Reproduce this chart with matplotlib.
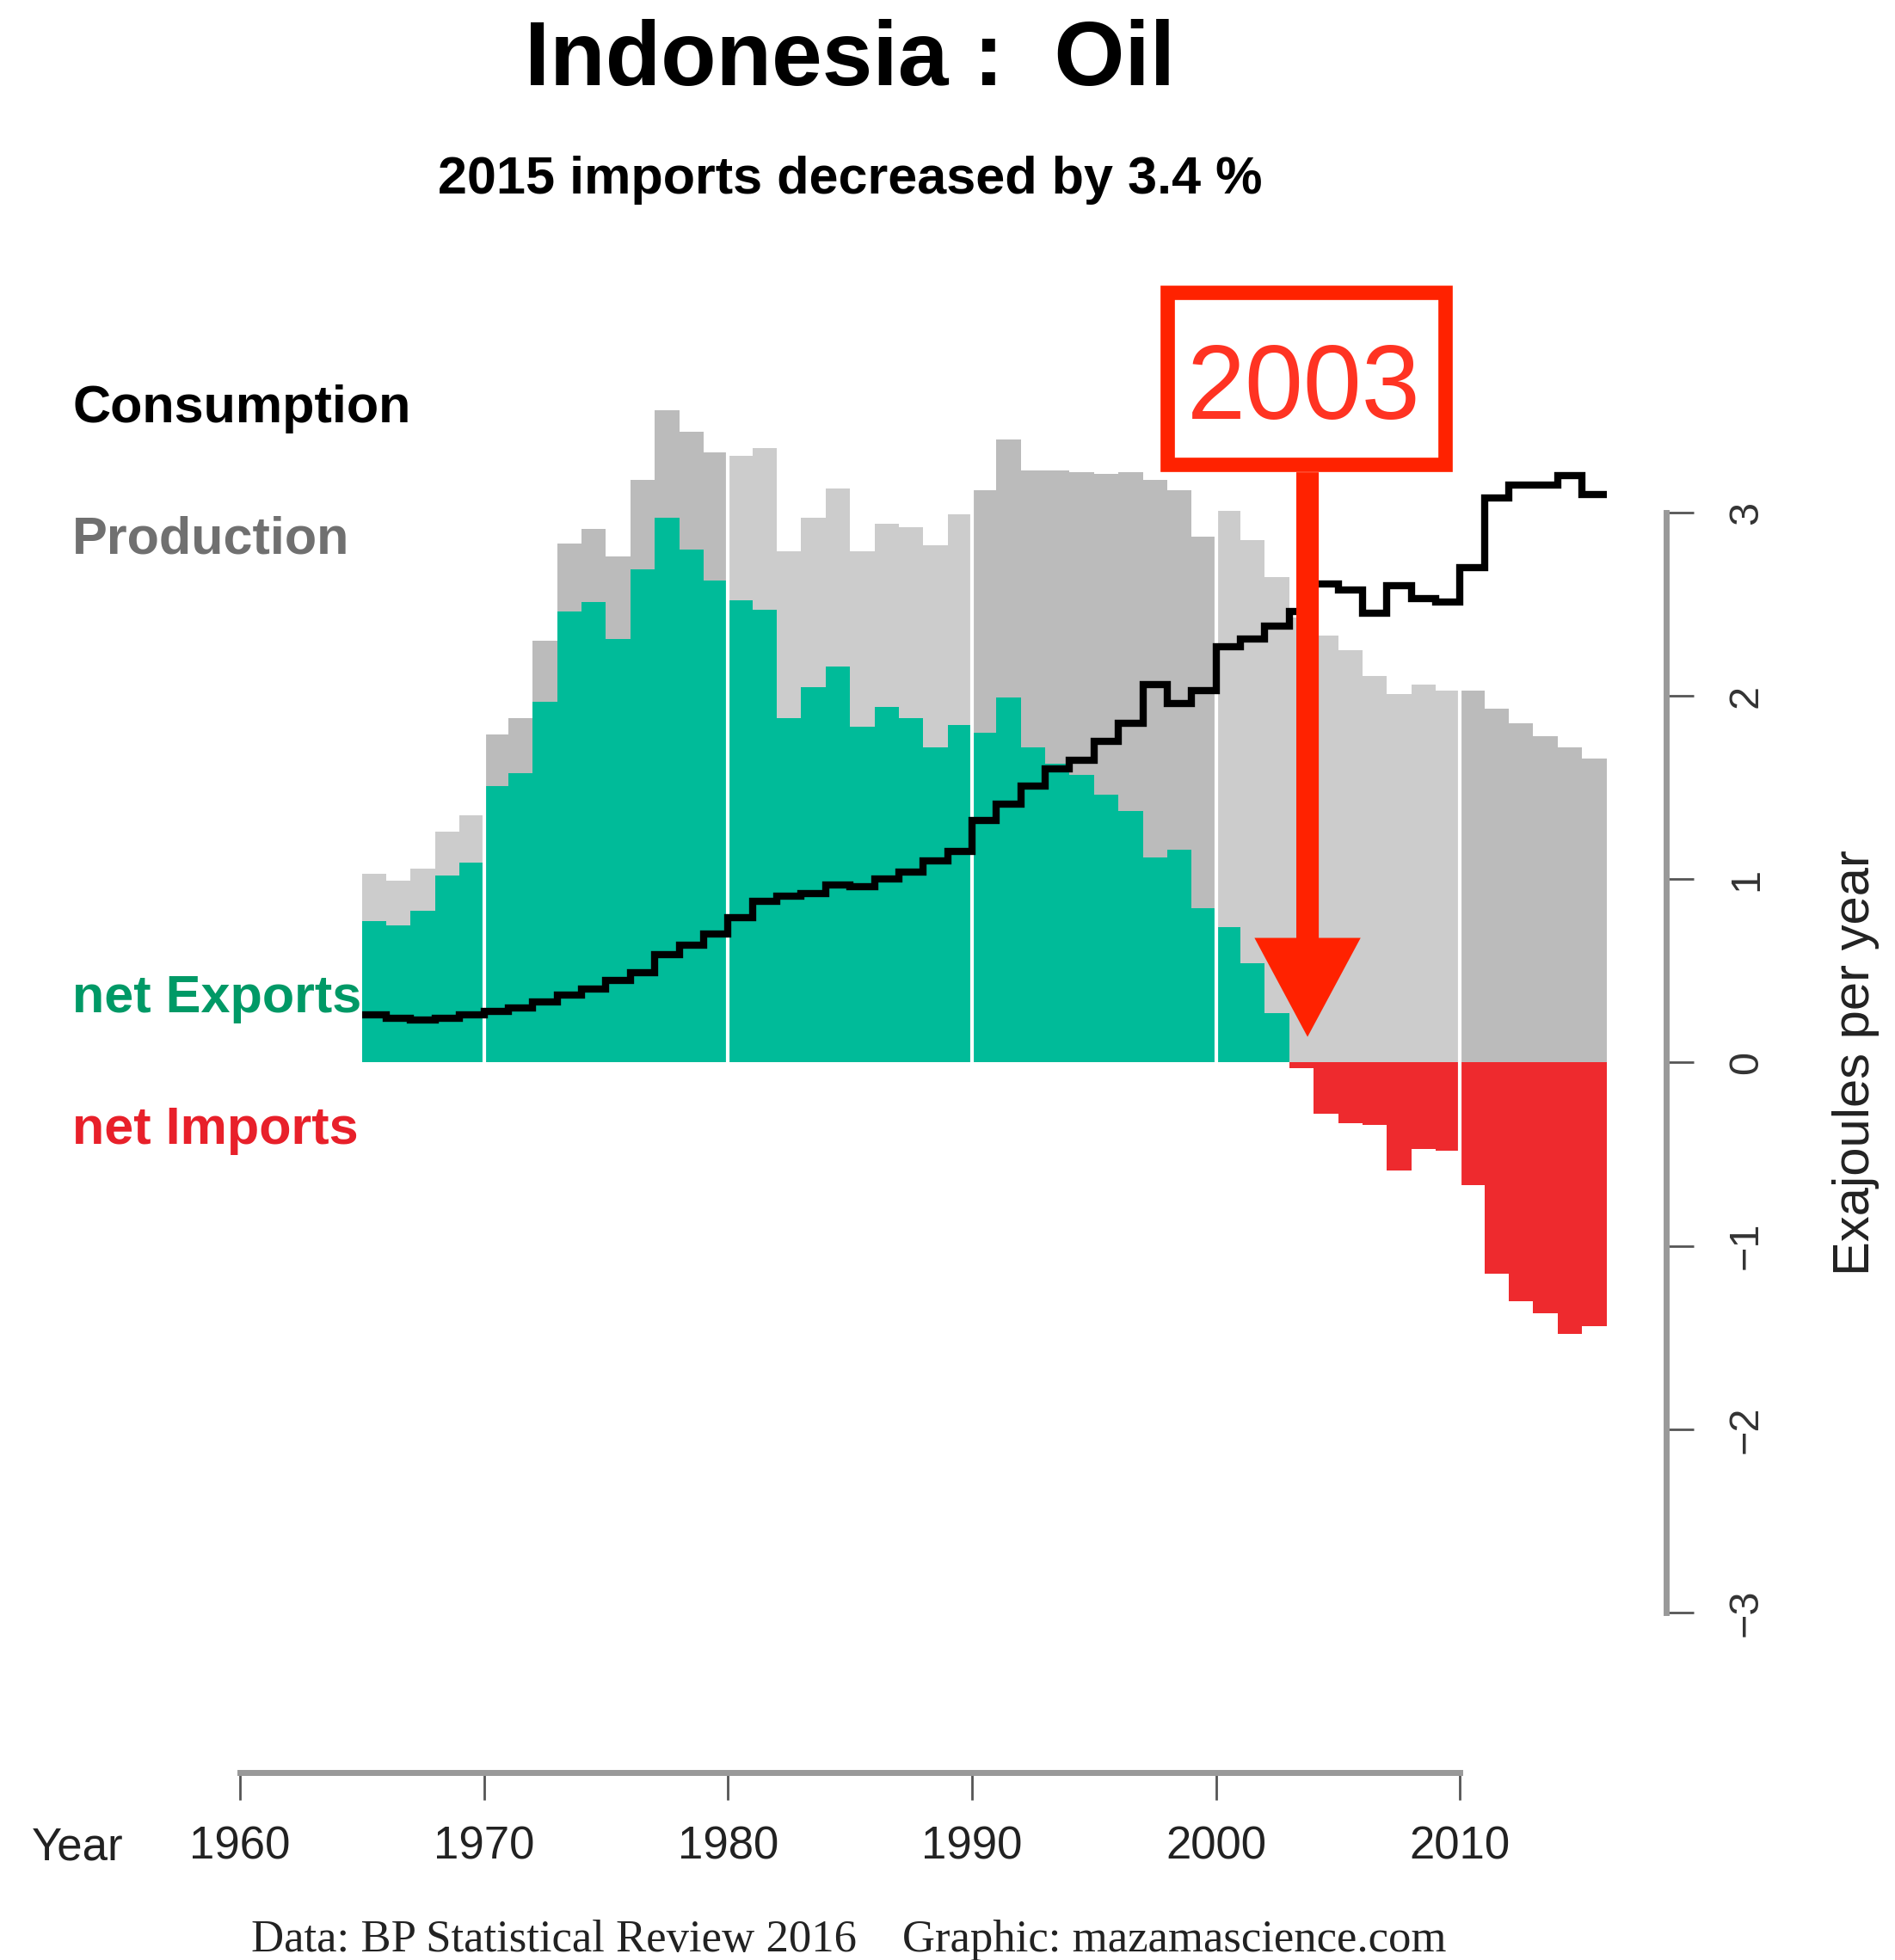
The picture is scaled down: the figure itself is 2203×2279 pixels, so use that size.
import numpy as np
import matplotlib
matplotlib.use('Agg')
import matplotlib.pyplot as plt
from matplotlib.patches import Rectangle, FancyArrow

plt.rcParams['font.family'] = ['Liberation Sans', 'DejaVu Sans']

# data (EJ per year)
years = np.arange(1965, 2016)
production = [1.03, 0.99, 1.06, 1.26, 1.35,
              1.79, 1.88, 2.30, 2.83, 2.91, 2.76, 3.18, 3.56, 3.44, 3.33,
              3.31, 3.35, 2.79, 2.97, 3.13, 2.79, 2.94, 2.92, 2.82, 2.99,
              3.12, 3.40, 3.23, 3.23, 3.22, 3.21, 3.22, 3.18, 3.12, 2.87,
              3.01, 2.85, 2.65, 2.43, 2.33, 2.25, 2.11, 2.01, 2.06, 2.03,
              2.03, 1.93, 1.85, 1.78, 1.72, 1.66]
consumption = [0.26, 0.24, 0.23, 0.24, 0.26,
               0.28, 0.30, 0.33, 0.37, 0.40, 0.45, 0.49, 0.59, 0.64, 0.70,
               0.79, 0.88, 0.91, 0.92, 0.97, 0.96, 1.00, 1.04, 1.10, 1.15,
               1.32, 1.41, 1.51, 1.60, 1.65, 1.75, 1.85, 2.06, 1.96, 2.03,
               2.27, 2.31, 2.38, 2.46, 2.61, 2.58, 2.45, 2.60, 2.53, 2.51,
               2.70, 3.08, 3.15, 3.15, 3.20, 3.10]
decades = [1970, 1980, 1990, 2000, 2010]
xticks = [1960, 1970, 1980, 1990, 2000, 2010]
yticks = [-3, -2, -1, 0, 1, 2, 3]

production = np.array(production)
consumption = np.array(consumption)
net = production - consumption

GREEN = '#00BB99'
RED = '#EE2A2E'
ARROW = '#FF2200'

fig = plt.figure(figsize=(22.03, 22.79), dpi=100)
ax = fig.add_axes([0.1266, 0.1773, 0.7527, 0.6547])
ax.set_xlim(1960, 2018.45)
ax.set_ylim(-3, 4)
ax.patch.set_visible(False)

# production bars, shade alternates by decade
gray = ['#CCCCCC' if (y // 10) % 2 == 0 else '#BBBBBB' for y in years]
ax.bar(years, production, width=1, align='edge', color=gray, linewidth=0, zorder=1)
ax.bar(years, np.clip(net, 0, None), width=1, align='edge', color=GREEN, linewidth=0, zorder=2)
ax.bar(years, np.clip(net, None, 0), width=1, align='edge', color=RED, linewidth=0, zorder=2)
ax.vlines(decades, -3, 4, colors='white', lw=3, zorder=3)
ax.stairs(consumption, np.append(years, years[-1] + 1), baseline=None,
          color='black', lw=6, zorder=4)

# right axis
for s in ['top', 'left', 'bottom']:
    ax.spines[s].set_visible(False)
ax.spines['right'].set_bounds(-3, 3)
ax.spines['right'].set_color('#999999')
ax.spines['right'].set_linewidth(5)
ax.yaxis.tick_right()
ax.set_yticks(yticks)
ax.set_xticks([])
ax.tick_params(axis='y', direction='out', length=23, width=2, color='#555555',
               labelsize=35, labelcolor='#333333', pad=28)
for lab in ax.get_yticklabels():
    lab.set_rotation(90)
    lab.set_va('center')
fig.text(0.9795, 0.458, 'Exajoules per year', rotation=90, ha='center', va='center',
         fontsize=43, color='#222222')

# bottom axis
ax2 = fig.add_axes([0.1266, 0.0957, 0.7527, 0.0001])
ax2.set_xlim(1960, 2018.45)
ax2.patch.set_visible(False)
for s in ['top', 'left', 'right']:
    ax2.spines[s].set_visible(False)
ax2.spines['bottom'].set_bounds(1960, 2010)
ax2.spines['bottom'].set_color('#999999')
ax2.spines['bottom'].set_linewidth(5)
ax2.set_yticks([])
ax2.set_xticks(xticks)
ax2.tick_params(axis='x', direction='out', length=23, width=2, color='#555555',
                labelsize=38, labelcolor='#222222', pad=21)
fig.text(0.0409, 0.051, 'Year', ha='center', va='baseline', fontsize=38, color='#222222')

# 2003 annotation
ax.add_patch(Rectangle((1998.01, 3.265), 11.37, 0.935, facecolor='white',
                       edgecolor=ARROW, lw=12, clip_on=False, zorder=5))
ax.text(2003.6, 3.51, '2003', ha='center', va='baseline', fontsize=88,
        color='#FF3322', zorder=6, clip_on=False)
ax.add_patch(FancyArrow(2003.75, 3.22, 0, 0.14 - 3.22, width=0.92, head_width=4.35,
                        head_length=0.54, length_includes_head=True, color=ARROW,
                        lw=0, zorder=6, clip_on=False))

# titles and labels
fig.text(0.4485, 0.9566, 'Indonesia :  Oil', ha='center', va='baseline',
         fontsize=76, fontweight='bold')
fig.text(0.4485, 0.9011, '2015 imports decreased by 3.4 %', ha='center', va='baseline',
         fontsize=44, fontweight='bold')
fig.text(0.0383, 0.7844, 'Consumption', fontsize=44, fontweight='bold', color='black')
fig.text(0.0383, 0.7175, 'Production', fontsize=44, fontweight='bold', color='#707070')
fig.text(0.0383, 0.4834, 'net Exports', fontsize=44, fontweight='bold', color='#009966')
fig.text(0.0383, 0.4165, 'net Imports', fontsize=44, fontweight='bold', color='#E8202A')

fig.text(0.448, 0.0045, 'Data: BP Statistical Review 2016    Graphic: mazamascience.com',
         ha='center', va='baseline', fontsize=38, color='#222222',
         family=['Liberation Serif', 'DejaVu Serif'])

fig.savefig('out.png', dpi=100)
